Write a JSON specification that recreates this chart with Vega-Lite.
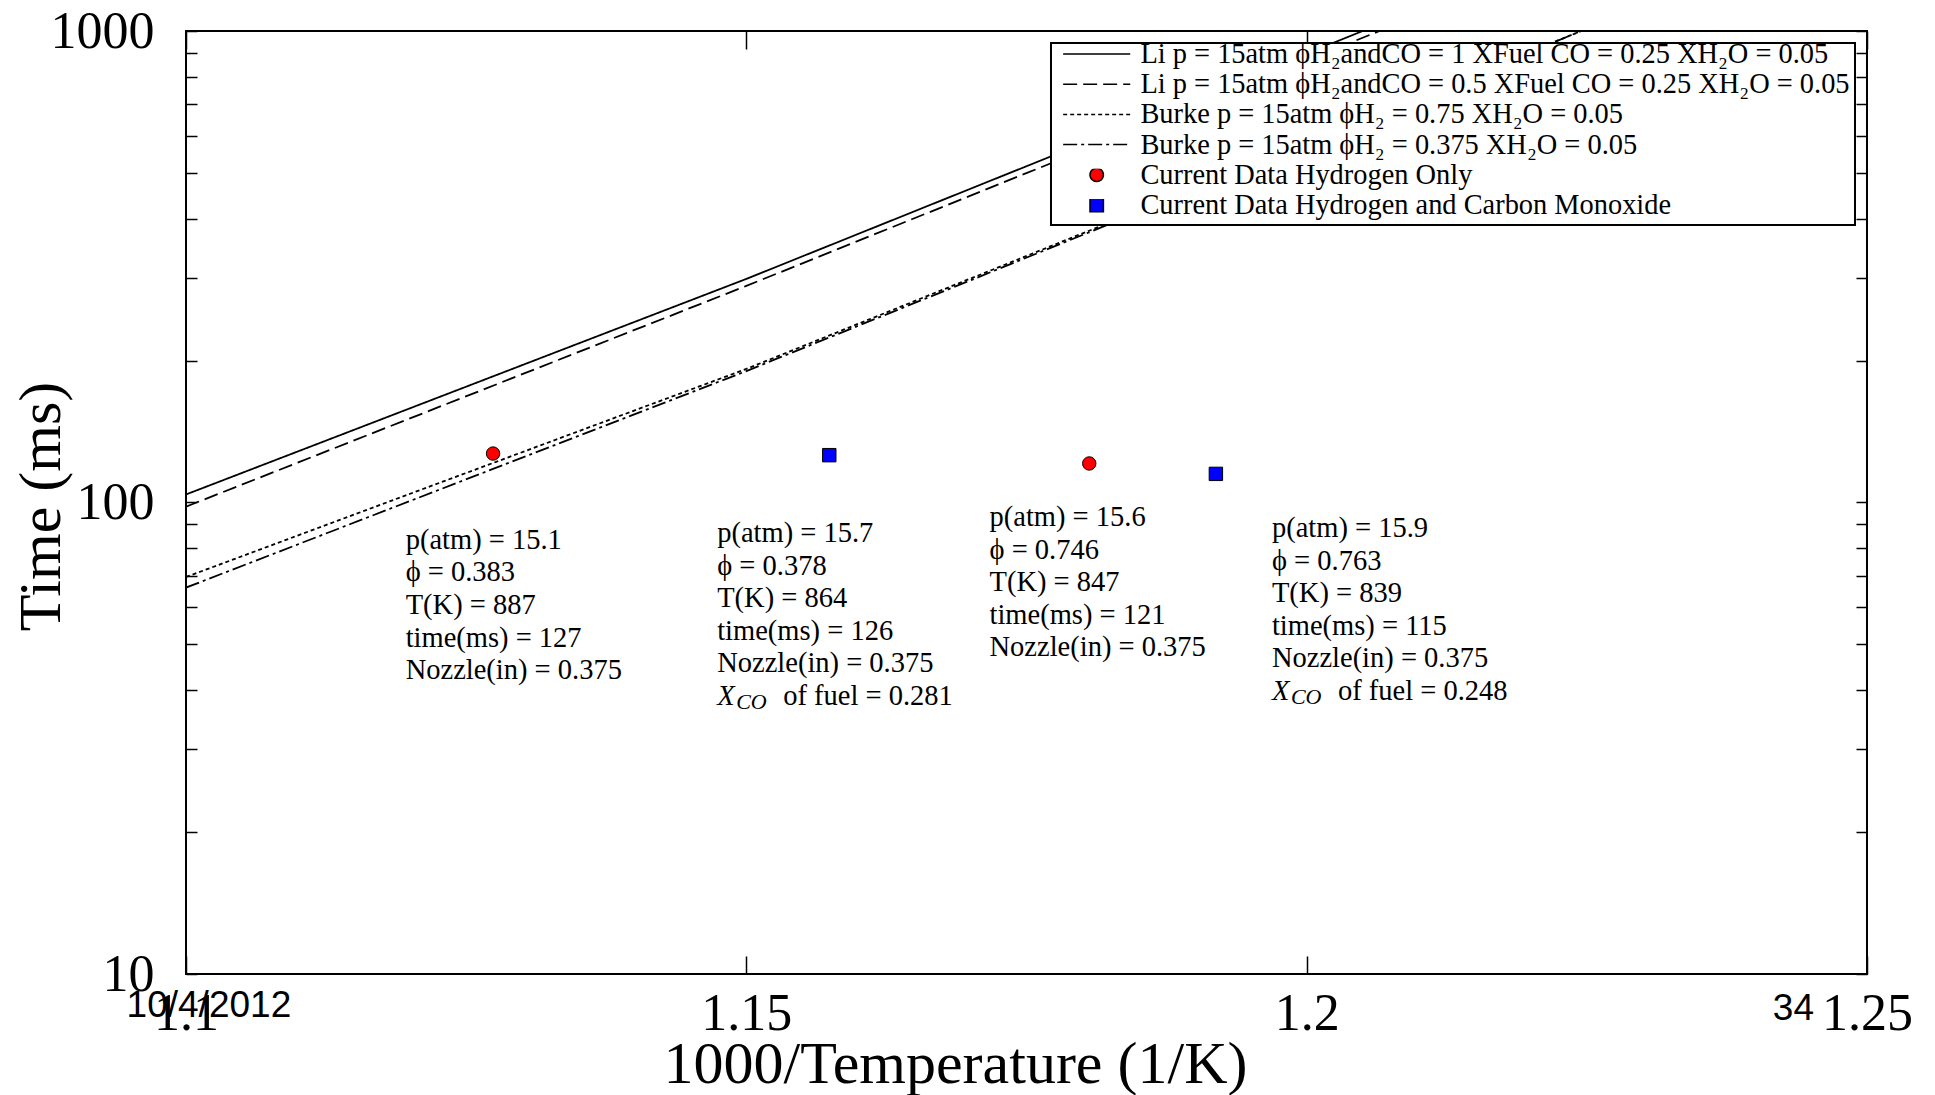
{
  "$schema": "https://vega.github.io/schema/vega-lite/v6.json",
  "width": 1681,
  "height": 943,
  "autosize": {"type": "none"},
  "padding": {"left": 186, "top": 31, "right": 68, "bottom": 121},
  "background": "white",
  "config": {
    "view": {"stroke": "black", "strokeWidth": 2},
    "font": "Liberation Serif",
    "axis": {
      "domain": false, "grid": false, "tickColor": "black", "tickWidth": 1.5,
      "labelColor": "black", "labelFont": "Liberation Serif", "labelFontSize": 52,
      "titleFont": "Liberation Serif", "titleFontSize": 60, "titleFontWeight": "normal", "titleColor": "black",
      "labelFlush": false, "labelOverlap": false, "labelBound": false
    },
    "legend": {
      "orient": "top-right", "offset": 12, "fillColor": "white", "strokeColor": "black", "strokeWidth": 2,
      "padding": 5, "labelFont": "Liberation Serif", "labelFontSize": 28.4, "labelColor": "black", "labelLimit": 2000,
      "clipHeight": 12, "rowPadding": 1.2, "symbolSize": 180, "symbolOffset": 26.5, "labelOffset": 29.5,
      "symbolStrokeColor": "black", "symbolStrokeWidth": 1.5
    }
  },
  "datasets": {
    "lines": [
      {"series": "Li p = 15atm ϕH₂andCO = 1 XFuel CO = 0.25 XH₂O = 0.05", "invT": 1.1, "time": 104},
      {"series": "Li p = 15atm ϕH₂andCO = 1 XFuel CO = 0.25 XH₂O = 0.05", "invT": 1.15, "time": 298},
      {"series": "Li p = 15atm ϕH₂andCO = 1 XFuel CO = 0.25 XH₂O = 0.05", "invT": 1.205, "time": 1000},
      {"series": "Li p = 15atm ϕH₂andCO = 0.5 XFuel CO = 0.25 XH₂O = 0.05", "invT": 1.1, "time": 98},
      {"series": "Li p = 15atm ϕH₂andCO = 0.5 XFuel CO = 0.25 XH₂O = 0.05", "invT": 1.15, "time": 288},
      {"series": "Li p = 15atm ϕH₂andCO = 0.5 XFuel CO = 0.25 XH₂O = 0.05", "invT": 1.2065, "time": 1000},
      {"series": "Burke p = 15atm ϕH₂ = 0.75 XH₂O = 0.05", "invT": 1.1, "time": 69.5},
      {"series": "Burke p = 15atm ϕH₂ = 0.75 XH₂O = 0.05", "invT": 1.15, "time": 192},
      {"series": "Burke p = 15atm ϕH₂ = 0.75 XH₂O = 0.05", "invT": 1.182, "time": 389},
      {"series": "Burke p = 15atm ϕH₂ = 0.75 XH₂O = 0.05", "invT": 1.2245, "time": 1000},
      {"series": "Burke p = 15atm ϕH₂ = 0.375 XH₂O = 0.05", "invT": 1.1, "time": 66},
      {"series": "Burke p = 15atm ϕH₂ = 0.375 XH₂O = 0.05", "invT": 1.15, "time": 190},
      {"series": "Burke p = 15atm ϕH₂ = 0.375 XH₂O = 0.05", "invT": 1.182, "time": 386},
      {"series": "Burke p = 15atm ϕH₂ = 0.375 XH₂O = 0.05", "invT": 1.2245, "time": 1000}
    ],
    "points": [
      {"series": "Current Data Hydrogen Only", "invT": 1.1274, "time": 127},
      {"series": "Current Data Hydrogen Only", "invT": 1.1806, "time": 121},
      {"series": "Current Data Hydrogen and Carbon Monoxide", "invT": 1.1574, "time": 126},
      {"series": "Current Data Hydrogen and Carbon Monoxide", "invT": 1.1919, "time": 115}
    ],
    "notes": [
      {"x": 1.1196, "y": 89.2, "text": "p(atm) = 15.1\nϕ = 0.383\nT(K) = 887\ntime(ms) = 127\nNozzle(in) = 0.375"},
      {"x": 1.1474, "y": 92.3, "text": "p(atm) = 15.7\nϕ = 0.378\nT(K) = 864\ntime(ms) = 126\nNozzle(in) = 0.375", "xco": "of fuel = 0.281"},
      {"x": 1.1717, "y": 99.8, "text": "p(atm) = 15.6\nϕ = 0.746\nT(K) = 847\ntime(ms) = 121\nNozzle(in) = 0.375"},
      {"x": 1.1969, "y": 94.5, "text": "p(atm) = 15.9\nϕ = 0.763\nT(K) = 839\ntime(ms) = 115\nNozzle(in) = 0.375", "xco": "of fuel = 0.248"}
    ],
    "slide": [
      {"x": 1.0947, "y": 8.55, "text": "10/4/2012"},
      {"x": 1.2416, "y": 8.43, "text": "34"}
    ]
  },
  "layer": [
    {
      "data": {"name": "lines"},
      "mark": {"type": "line", "color": "black", "strokeWidth": 1.8, "clip": true},
      "encoding": {
        "x": {"field": "invT", "type": "quantitative",
          "scale": {"domain": [1.1, 1.25], "nice": false, "zero": false},
          "axis": {"orient": "bottom", "values": [1.1, 1.15, 1.2, 1.25], "format": "~g", "tickSize": -18, "labelPadding": 32,
            "title": "1000/Temperature (1/K)", "titleX": 769, "titleY": 90, "titleBaseline": "middle", "titleAlign": "center"}},
        "y": {"field": "time", "type": "quantitative",
          "scale": {"type": "log", "domain": [10, 1000], "nice": false},
          "axis": {"orient": "left", "values": [10,20,30,40,50,60,70,80,90,100,200,300,400,500,600,700,800,900,1000],
            "labelExpr": "indexof([10,100,1000], datum.value) >= 0 ? format(datum.value, 'd') : ''",
            "tickSize": -11, "labelPadding": 43,
            "title": "Time (ms)", "titleX": -145, "titleY": 475, "titleAngle": -90, "titleBaseline": "middle", "titleAlign": "center"}},
        "strokeDash": {"field": "series", "type": "nominal",
          "scale": {"domain": [
            "Li p = 15atm ϕH₂andCO = 1 XFuel CO = 0.25 XH₂O = 0.05",
            "Li p = 15atm ϕH₂andCO = 0.5 XFuel CO = 0.25 XH₂O = 0.05",
            "Burke p = 15atm ϕH₂ = 0.75 XH₂O = 0.05",
            "Burke p = 15atm ϕH₂ = 0.375 XH₂O = 0.05",
            "Current Data Hydrogen Only",
            "Current Data Hydrogen and Carbon Monoxide"],
            "range": [[1, 0], [14, 6], [4, 3], [14, 4, 3, 4], [1, 0], [1, 0]]},
          "legend": {"title": null, "labelExpr": "datum.label + '\u00a0'"}}
      }
    },
    {
      "data": {"name": "points"},
      "mark": {"type": "point", "filled": true, "stroke": "black", "strokeWidth": 1, "opacity": 1, "size": 180},
      "encoding": {
        "x": {"field": "invT", "type": "quantitative",
          "scale": {"domain": [1.1, 1.25], "nice": false, "zero": false},
          "axis": {"orient": "top", "values": [1.1, 1.15, 1.2, 1.25], "labels": false, "tickSize": -18, "title": null}},
        "y": {"field": "time", "type": "quantitative",
          "scale": {"type": "log", "domain": [10, 1000], "nice": false},
          "axis": {"orient": "right", "values": [10,20,30,40,50,60,70,80,90,100,200,300,400,500,600,700,800,900,1000], "labels": false, "tickSize": -11, "title": null}},
        "shape": {"field": "series", "type": "nominal",
          "scale": {"domain": [
            "Li p = 15atm ϕH₂andCO = 1 XFuel CO = 0.25 XH₂O = 0.05",
            "Li p = 15atm ϕH₂andCO = 0.5 XFuel CO = 0.25 XH₂O = 0.05",
            "Burke p = 15atm ϕH₂ = 0.75 XH₂O = 0.05",
            "Burke p = 15atm ϕH₂ = 0.375 XH₂O = 0.05",
            "Current Data Hydrogen Only",
            "Current Data Hydrogen and Carbon Monoxide"],
            "range": ["M-5,0H5", "M-5,0H5", "M-5,0H5", "M-5,0H5", "circle", "square"]},
          "legend": {"title": null, "labelExpr": "datum.label + '\u00a0'"}},
        "color": {"field": "series", "type": "nominal",
          "scale": {"domain": [
            "Li p = 15atm ϕH₂andCO = 1 XFuel CO = 0.25 XH₂O = 0.05",
            "Li p = 15atm ϕH₂andCO = 0.5 XFuel CO = 0.25 XH₂O = 0.05",
            "Burke p = 15atm ϕH₂ = 0.75 XH₂O = 0.05",
            "Burke p = 15atm ϕH₂ = 0.375 XH₂O = 0.05",
            "Current Data Hydrogen Only",
            "Current Data Hydrogen and Carbon Monoxide"],
            "range": ["black", "black", "black", "black", "#ff0000", "#0000ff"]},
          "legend": {"title": null, "labelExpr": "datum.label + '\u00a0'"}}
      }
    },
    {
      "data": {"name": "notes"},
      "mark": {"type": "text", "align": "left", "baseline": "top", "font": "Liberation Serif", "fontSize": 28.5, "lineHeight": 32.6, "lineBreak": "\n", "color": "black"},
      "encoding": {
        "x": {"field": "x", "type": "quantitative", "scale": {"domain": [1.1, 1.25], "nice": false, "zero": false}, "axis": null},
        "y": {"field": "y", "type": "quantitative", "scale": {"type": "log", "domain": [10, 1000], "nice": false}, "axis": null},
        "text": {"field": "text"}
      }
    },
    {
      "data": {"name": "notes"},
      "transform": [{"filter": "isValid(datum.xco)"}],
      "mark": {"type": "text", "align": "left", "baseline": "top", "font": "Liberation Serif", "fontStyle": "italic", "fontSize": 28.5, "dy": 163, "color": "black"},
      "encoding": {
        "x": {"field": "x", "type": "quantitative", "scale": {"domain": [1.1, 1.25], "nice": false, "zero": false}, "axis": null},
        "y": {"field": "y", "type": "quantitative", "scale": {"type": "log", "domain": [10, 1000], "nice": false}, "axis": null},
        "text": {"value": "X"}
      }
    },
    {
      "data": {"name": "notes"},
      "transform": [{"filter": "isValid(datum.xco)"}],
      "mark": {"type": "text", "align": "left", "baseline": "top", "font": "Liberation Serif", "fontStyle": "italic", "fontSize": 22, "dx": 19, "dy": 173, "color": "black"},
      "encoding": {
        "x": {"field": "x", "type": "quantitative", "scale": {"domain": [1.1, 1.25], "nice": false, "zero": false}, "axis": null},
        "y": {"field": "y", "type": "quantitative", "scale": {"type": "log", "domain": [10, 1000], "nice": false}, "axis": null},
        "text": {"value": "CO"}
      }
    },
    {
      "data": {"name": "notes"},
      "transform": [{"filter": "isValid(datum.xco)"}],
      "mark": {"type": "text", "align": "left", "baseline": "top", "font": "Liberation Serif", "fontSize": 28.5, "dx": 66, "dy": 163, "color": "black"},
      "encoding": {
        "x": {"field": "x", "type": "quantitative", "scale": {"domain": [1.1, 1.25], "nice": false, "zero": false}, "axis": null},
        "y": {"field": "y", "type": "quantitative", "scale": {"type": "log", "domain": [10, 1000], "nice": false}, "axis": null},
        "text": {"field": "xco"}
      }
    },
    {
      "data": {"name": "slide"},
      "mark": {"type": "text", "align": "left", "baseline": "middle", "font": "Liberation Sans", "fontSize": 37, "color": "black", "clip": false},
      "encoding": {
        "x": {"field": "x", "type": "quantitative", "scale": {"domain": [1.1, 1.25], "nice": false, "zero": false}, "axis": null},
        "y": {"field": "y", "type": "quantitative", "scale": {"type": "log", "domain": [10, 1000], "nice": false}, "axis": null},
        "text": {"field": "text"}
      }
    }
  ],
  "resolve": {"axis": {"x": "independent", "y": "independent"}}
}
